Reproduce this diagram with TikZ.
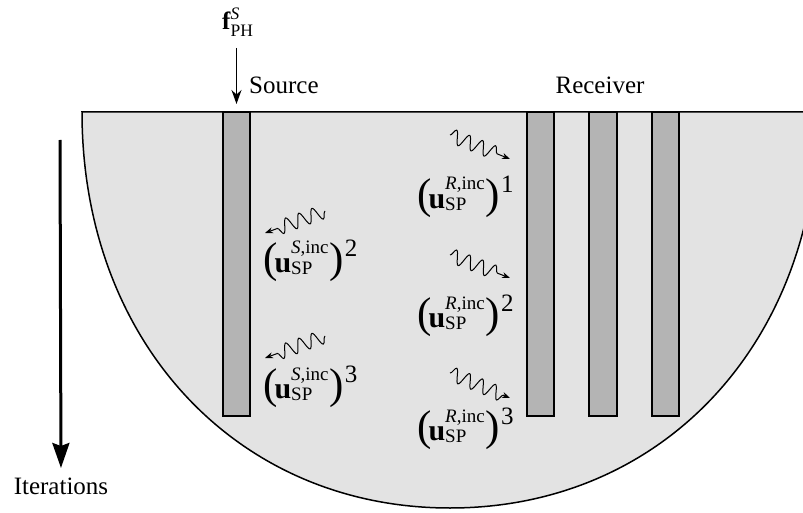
\documentclass[tikz,border=0pt]{standalone}
\usepackage{amsmath}
\usepackage{fontspec}
\setmainfont{Liberation Serif}
\usetikzlibrary{arrows.meta,decorations.pathmorphing}
\definecolor{domainfill}{HTML}{E3E3E3}
\definecolor{rodfill}{HTML}{B4B4B4}
% incident-field symbol: (u_SP^{#1,inc})^{#2}, set by hand with text fonts
\newcommand{\tallparen}[1]{{\fontsize{43}{43}\selectfont #1}}
\newcommand{\incfield}[2]{%
  \tallparen{(}\kern-3pt%
  {\fontsize{30}{36}\selectfont\textbf{u}}%
  \makebox[0pt][l]{\raisebox{-2pt}{\fontsize{19}{19}\selectfont SP}}%
  \raisebox{18pt}{\fontsize{19}{19}\selectfont\textit{#1},inc}\kern1pt%
  \tallparen{)}\kern1pt%
  \raisebox{16pt}{\fontsize{25}{25}\selectfont #2}}
\begin{document}
\begin{tikzpicture}[x=1pt,y=-1pt,
  font=\fontsize{25}{30}\selectfont,
  rod/.style={draw=black,line width=1.5pt,fill=rodfill,inner sep=0pt,outer sep=0pt,
    minimum width=27pt,minimum height=304pt,anchor=north west},
  wave/.style={line width=1pt,decorate,
    decoration={snake,segment length=14pt,amplitude=7pt,post length=7pt},
    -{Stealth[length=8pt,width=6pt]}},
  lbl/.style={inner sep=0pt,anchor=base west},
]
\useasboundingbox (0,0) rectangle (803,513);

% half-domain (cut at the right border)
\begin{scope}
  \clip (0,0) rectangle (803,513);
  \draw[fill=domainfill,line width=1.5pt]
    (82,112) .. controls (82,341.7) and (236.6,508) .. (450,508)
    .. controls (663.4,508) and (818,341.7) .. (818,112) -- cycle;
\end{scope}

% source rod and receiver rods
\node[rod] (srcrod) at (223,112) {};
\node[rod] (rec1) at (527,112) {};
\node[rod,minimum width=28pt] (rec2) at (589,112) {};
\node[rod] (rec3) at (652,112) {};

% excitation at the source
\node[lbl] (fph) at (222,30) {$\textbf{f}^{\textit{S}}_{\text{PH}}$};
\coordinate (srcin) at (236.5,48);
\draw[line width=1.3pt,-{Stealth[length=14pt,width=10pt]},shorten >=8pt] (srcin) -- (srcrod.north);
\node[lbl] (srclbl) at (249,94) {Source};
\node[inner sep=0pt,anchor=base] (reclbl) at (600,94) {Receiver};

% iteration direction
\node[inner sep=0pt,anchor=north] (iter) at (61,478) {Iterations};
\coordinate (itstart) at (60,140);
\draw[line width=3pt,-{Stealth[length=25pt,width=17pt,inset=3pt]},shorten >=10pt] (itstart) -- (iter.north);

% incident fields at the source
\node[lbl] (s2) at (263,272) {\incfield{S}{2}};
\node[lbl] (s3) at (263,398) {\incfield{S}{3}};
\coordinate (s2a) at (325,211); \coordinate (s2b) at (265,233);
\coordinate (s3a) at (325,336); \coordinate (s3b) at (265,358);
\draw[wave] (s2a) -- (s2b);
\draw[wave] (s3a) -- (s3b);

% incident fields at the receivers
\node[lbl] (r1) at (417,208) {\incfield{R}{1}};
\node[lbl] (r2) at (417,327) {\incfield{R}{2}};
\node[lbl] (r3) at (417,440) {\incfield{R}{3}};
\coordinate (r1a) at (450,135); \coordinate (r1b) at (510,159);
\coordinate (r2a) at (450,255); \coordinate (r2b) at (510,278);
\coordinate (r3a) at (450,373); \coordinate (r3b) at (510,398);
\draw[wave] (r1a) -- (r1b);
\draw[wave] (r2a) -- (r2b);
\draw[wave] (r3a) -- (r3b);
\end{tikzpicture}
\end{document}
